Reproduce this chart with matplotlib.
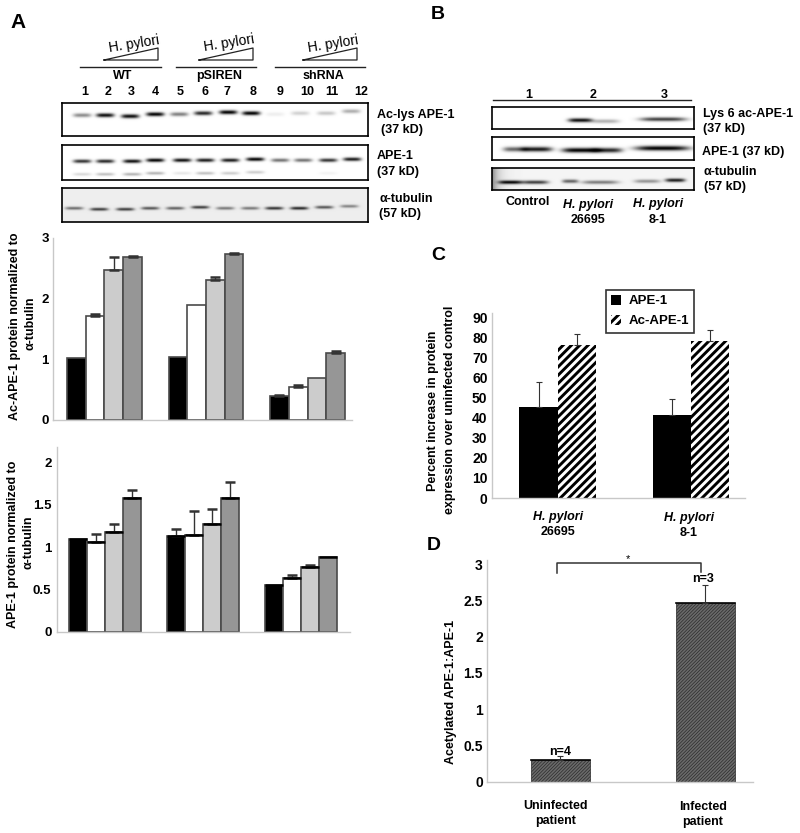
import numpy as np
import matplotlib
matplotlib.use('Agg')
import matplotlib.pyplot as plt

plt.rcParams['font.family'] = ['Liberation Sans', 'DejaVu Sans']
plt.rcParams['font.weight'] = 'bold'
plt.rcParams['hatch.linewidth'] = 2.1

W, H = 800, 833

# ── Panel A bars ──────────────────────────────────────────────────────────────

ac_vals = [[1.02, 1.72, 2.47, 2.69], [1.04, 1.90, 2.30, 2.74], [0.39, 0.55, 0.69, 1.10]]
ac_errs = [[0.00, 0.03, 0.21, 0.02], [0.00, 0.00, 0.05, 0.02], [0.02, 0.02, 0.00, 0.03]]
ape_vals = [[1.10, 1.06, 1.18, 1.58], [1.13, 1.145, 1.27, 1.58], [0.55, 0.64, 0.76, 0.88]]
ape_errs = [[0.00, 0.09, 0.09, 0.09], [0.08, 0.275, 0.18, 0.18], [0.00, 0.03, 0.03, 0.00]]
dose_colors = ['black', 'white', '#cccccc', '#969696']

# ── Panel C / D bars ──────────────────────────────────────────────────────────

strains = ['26695', '8-1']
c_ape = [45.5, 41.5]
c_ape_err = [12.3, 7.8]
c_acape = [76.2, 78.0]
c_acape_err = [5.5, 5.7]

patients = ['Uninfected\npatient', 'Infected\npatient']
d_vals = [0.30, 2.47]
d_errs = [0.05, 0.25]

# ── Blots: band centre x, half width, centre y, strength (picture pixels) ─────

a1_x = [82, 105, 130, 155, 179, 203, 228, 251, 275, 300, 326, 351]
a1_y = [115, 115, 116, 114, 114, 113, 112, 113, 114, 113, 113, 111]
a1_s = [.45, .95, .95, 1, .5, .85, 1, 1, .07, .18, .22, .32]

a2_x = [82, 105, 132, 155, 182, 205, 230, 255, 280, 303, 328, 352]
a2_y = [161, 161, 161, 160, 160, 160, 160, 159, 160, 160, 160, 159]
a2_s = [.8, .85, .95, 1, .95, .9, .9, 1, .55, .55, .8, .9]
a2_low = [.15, .25, .3, .3, .1, .25, .2, .2, 0, 0, .05, 0]

a3_x = [74, 99, 125, 150, 175, 200, 225, 250, 274, 299, 324, 349]
a3_y = [208, 209, 209, 208, 208, 207, 208, 208, 208, 208, 207, 206]
a3_s = [.55, .75, .75, .65, .6, .75, .5, .5, .8, .85, .65, .45]

b1_x, b1_y, b1_s, b1_w = [580, 605, 663], [120, 121, 119], [.95, .3, .75], [12, 14, 23]
b2_x, b2_y, b2_s, b2_w = [515, 537, 580, 607, 662], [149, 149, 150, 150, 148], [.6, .9, 1, .85, 1], [12, 15, 18, 15, 27]
b3_x, b3_y, b3_s, b3_w = [510, 535, 570, 600, 647, 675], [182, 182, 181, 182, 181, 180], [1, .75, .6, .5, .4, .9], [12, 13, 8, 18, 13, 10]

lane_nums = [str(i) for i in range(1, 13)]
lane_num_x = [85, 108, 131, 155, 180, 205, 227, 253, 280, 307, 332, 361]


def px_axes(x0, y0, x1, y1, **kw):
    # axes box from picture pixels (y counted from the top)
    return fig.add_axes([x0 / W, 1 - y1 / H, (x1 - x0) / W, (y1 - y0) / H], **kw)


def blot(box, xs, ys, strength, widths, bg=1.0, thick=2.0, lows=None, smear=False):
    x0, y0, x1, y1 = box
    gx = np.arange(x0, x1, 0.5)
    gy = np.arange(y0, y1, 0.5)
    xx, yy = np.meshgrid(gx, gy)
    img = np.zeros_like(xx)
    for x, y, s, w in zip(xs, ys, strength, widths):
        img += s * np.exp(-((xx - x) / w) ** 4) * np.exp(-((yy - y) / thick) ** 2)
    if lows is not None:
        for x, y, s, w in zip(xs, ys, lows, widths):
            img += s * np.exp(-((xx - x) / w) ** 4) * np.exp(-((yy - y - 13) / 1.5) ** 2)
    img = bg * (1 - np.clip(img, 0, 1))
    if smear:
        img *= 1 - 0.45 * np.exp(-(xx - x0) / 6)
    ax = px_axes(*box)
    ax.imshow(img, cmap='gray', vmin=0, vmax=1, aspect='auto', interpolation='bilinear')
    ax.set_xticks([])
    ax.set_yticks([])
    for s in ax.spines.values():
        s.set_linewidth(1.2)
    return ax


def style_axes(ax, ticks, ticklabels, size=9.5, pad=3):
    for s in ['top', 'right']:
        ax.spines[s].set_visible(False)
    for s in ['left', 'bottom']:
        ax.spines[s].set_color('#c8c8c8')
        ax.spines[s].set_linewidth(1.0)
    ax.set_xticks([])
    ax.set_yticks(ticks)
    ax.set_yticklabels(ticklabels, fontsize=size, fontweight='bold')
    ax.tick_params(axis='y', length=0, pad=pad)
    ax.patch.set_alpha(0)


def dose_bars(ax, vals, errs, w, edge_top):
    for g, (v_group, e_group) in enumerate(zip(vals, errs)):
        for i, (v, e) in enumerate(zip(v_group, e_group)):
            x = g + (i - 1.5) * w
            ax.bar(x, v, w, color=dose_colors[i], edgecolor='#4a4a4a', linewidth=1.2)
            if e > 0:
                ax.errorbar(x, v, yerr=[[0], [e]], ecolor='#333333', elinewidth=1.0,
                            capsize=3.5, capthick=1.8, fmt='none')
            if edge_top:
                ax.plot([x - w / 2, x + w / 2], [v, v], color='black', lw=1.8,
                        solid_capstyle='butt')


fig = plt.figure(figsize=(W / 100, H / 100), dpi=100)

# ── Blots ─────────────────────────────────────────────────────────────────────

blot((62, 103, 368, 136), a1_x, a1_y, a1_s, [9] * 12)
blot((62, 145, 368, 180), a2_x, a2_y, a2_s, [9] * 12, lows=a2_low, thick=1.8)
blot((62, 188, 368, 222), a3_x, a3_y, a3_s, [9] * 12, bg=0.93, thick=1.5)
blot((492, 107, 694, 129), b1_x, b1_y, b1_s, b1_w, thick=2.0)
blot((492, 137, 694, 160), b2_x, b2_y, b2_s, b2_w, thick=2.4)
blot((492, 168, 694, 190), b3_x, b3_y, b3_s, b3_w, bg=0.96, thick=1.8, smear=True)

# ── Panel A charts ────────────────────────────────────────────────────────────

ax1 = px_axes(53, 238, 352, 420)
dose_bars(ax1, ac_vals, ac_errs, 18.7 / 101.5, False)
ax1.set_xlim(-0.507, 2.438)
ax1.set_ylim(0, 3)
style_axes(ax1, [0, 1, 2, 3], ['0', '1', '2', '3'])

ax2 = px_axes(57, 447, 350, 632)
dose_bars(ax2, ape_vals, ape_errs, 18 / 98, True)
ax2.set_xlim(-0.485, 2.505)
ax2.set_ylim(0, 185 / 85)
style_axes(ax2, [0, 0.5, 1, 1.5, 2], ['0', '0.5', '1', '1.5', '2'], pad=4)

# ── Panel C ───────────────────────────────────────────────────────────────────

ax3 = px_axes(491.7, 313, 745, 498)
w3 = 38.2 / 133
x3 = np.arange(len(strains))
b_ape = ax3.bar(x3 - w3 / 2, c_ape, w3, color='black', label='APE-1')
b_ac = ax3.bar(x3 + w3 / 2, c_acape, w3, color='white', edgecolor='black', linewidth=0,
               hatch='////', label='Ac-APE-1')
ax3.errorbar(x3 - w3 / 2, c_ape, yerr=[np.zeros(2), c_ape_err], ecolor='#333333',
             elinewidth=0.8, capsize=2, capthick=0.8, fmt='none')
ax3.errorbar(x3 + w3 / 2, c_acape, yerr=[np.zeros(2), c_acape_err], ecolor='#333333',
             elinewidth=0.8, capsize=2, capthick=0.8, fmt='none')
ax3.set_xlim(-0.496, 1.408)
ax3.set_ylim(0, 185 / 2.007 * 1.0)
style_axes(ax3, range(0, 100, 10), [str(v) for v in range(0, 100, 10)], size=10, pad=3)
leg = ax3.legend(handles=[b_ape, b_ac], loc='upper left', fontsize=9.5, frameon=True,
                 fancybox=False, edgecolor='#333333', framealpha=1, handlelength=0.8,
                 handleheight=0.8, handletextpad=0.55, labelspacing=0.55, borderpad=0.4,
                 borderaxespad=0,
                 bbox_to_anchor=((605.5 - 491.7) / 253.3, (498 - 289.5) / 185))
leg.get_frame().set_linewidth(1.2)
leg.set_zorder(10)

# ── Panel D ───────────────────────────────────────────────────────────────────

ax4 = px_axes(487, 560, 752.7, 781.7)
x4 = np.arange(len(patients))
w4 = 58.7 / 145
plt.rcParams['hatch.linewidth'] = 0.5
bars_d = ax4.bar(x4, d_vals, w4, color='#6a6a6a', edgecolor='#2a2a2a', linewidth=0.5,
                 hatch='//////////')
ax4.plot([x4 - w4 / 2, x4 + w4 / 2], [d_vals, d_vals], color='black', lw=1.2)
ax4.errorbar(x4, d_vals, yerr=[np.zeros(2), d_errs], ecolor='#333333', elinewidth=0.8,
             capsize=2.5, capthick=0.8, fmt='none')
ax4.set_xlim(-0.505, 1.327)
ax4.set_ylim(0, 221.7 / 72.5)
style_axes(ax4, [0, 0.5, 1, 1.5, 2, 2.5, 3], ['0', '0.5', '1', '1.5', '2', '2.5', '3'],
           size=10, pad=3)

# restore stripe width for panel C when patches carry their own hatch width
for p in list(b_ac) + list(leg.get_patches()):
    if hasattr(p, 'set_hatch_linewidth'):
        p.set_hatch_linewidth(2.1)
for p in bars_d:
    if hasattr(p, 'set_hatch_linewidth'):
        p.set_hatch_linewidth(0.5)

# ── Labels and annotation drawn in picture pixels ─────────────────────────────

page = fig.add_axes([0, 0, 1, 1], zorder=20)
page.set_xlim(0, W)
page.set_ylim(H, 0)
page.axis('off')


def txt(x, y, s, size=9, ha='left', **kw):
    page.text(x, y, s, fontsize=size, ha=ha, va='center', fontweight=kw.pop('fontweight', 'bold'), **kw)


for s, x, y, size in [('A', 10, 22, 15), ('B', 431, 14, 14), ('C', 431, 255, 14), ('D', 427, 546, 14)]:
    txt(x, y, s, size=size)

# dose wedges and groups over the A blots
for name, tx, ty, wx, lx0, lx1, cx in [('WT', 134, 44, 104, 80, 161, 123),
                                       ('pSIREN', 229, 43, 199, 176, 256, 219),
                                       ('shRNA', 333, 44, 303, 275, 365, 323)]:
    txt(tx, ty, 'H. pylori', size=10, ha='center', rotation=9, fontweight='normal')
    page.plot([wx, wx + 54, wx + 54, wx], [60, 48, 60, 60], color='#222222', lw=0.9)
    page.plot([lx0, lx1], [66.5, 66.5], color='#222222', lw=1.0)
    txt(cx, 76, name, ha='center')
for s, x in zip(lane_nums, lane_num_x):
    txt(x, 92, s, ha='center')

txt(377, 115, 'Ac-lys APE-1')
txt(381, 130, '(37 kD)')
txt(377, 156, 'APE-1')
txt(377, 172, '(37 kD)')
txt(379, 199, 'α-tubulin')
txt(379, 214, '(57 kD)')

# panel B labels
page.plot([493, 691], [99.7, 99.7], color='#222222', lw=1.0)
for s, x in zip(['1', '2', '3'], [529, 593, 664]):
    txt(x, 95, s, ha='center')
txt(703, 114, 'Lys 6 ac-APE-1')
txt(703, 129, '(37 kD)')
txt(702, 152, 'APE-1 (37 kD)')
txt(704, 172, 'α-tubulin')
txt(704, 187, '(57 kD)')
txt(528, 202, 'Control', ha='center')
txt(588, 205, 'H. pylori', ha='center', style='italic')
txt(588, 220, '26695', ha='center')
txt(658, 204, 'H. pylori', ha='center', style='italic')
txt(658, 220, '8-1', ha='center')

# panel A axis titles
txt(15, 326, 'Ac-APE-1 protein normalized to', ha='center', rotation=90)
txt(31, 323, 'α-tubulin', ha='center', rotation=90)
txt(13, 544, 'APE-1 protein normalized to', ha='center', rotation=90)
txt(29, 542, 'α-tubulin', ha='center', rotation=90)

# panel C
txt(433, 411, 'Percent increase in protein', ha='center', rotation=90, size=9)
txt(450, 410, 'expression over uninfected control', ha='center', rotation=90, size=9)
for cx, cy, strain in zip([558, 689], [517, 518], strains):
    txt(cx, cy, 'H. pylori', ha='center', style='italic')
    txt(cx, cy + 15, strain, ha='center')

# panel D
txt(451, 692, 'Acetylated APE-1:APE-1', ha='center', rotation=90, size=9)
page.plot([556.7, 556.7, 700.7, 700.7], [572.7, 563, 563, 572], color='#333333', lw=1.1)
txt(628, 559, '*', ha='center', size=8, fontweight='normal')
txt(560, 752, 'n=4', ha='center')
txt(703, 579, 'n=3', ha='center')
for cx, cy, label in zip([556, 703], [806, 807], patients):
    first, second = label.split('\n')
    txt(cx, cy, first, ha='center')
    txt(cx, cy + 15, second, ha='center')

fig.savefig('out.png', dpi=100)
